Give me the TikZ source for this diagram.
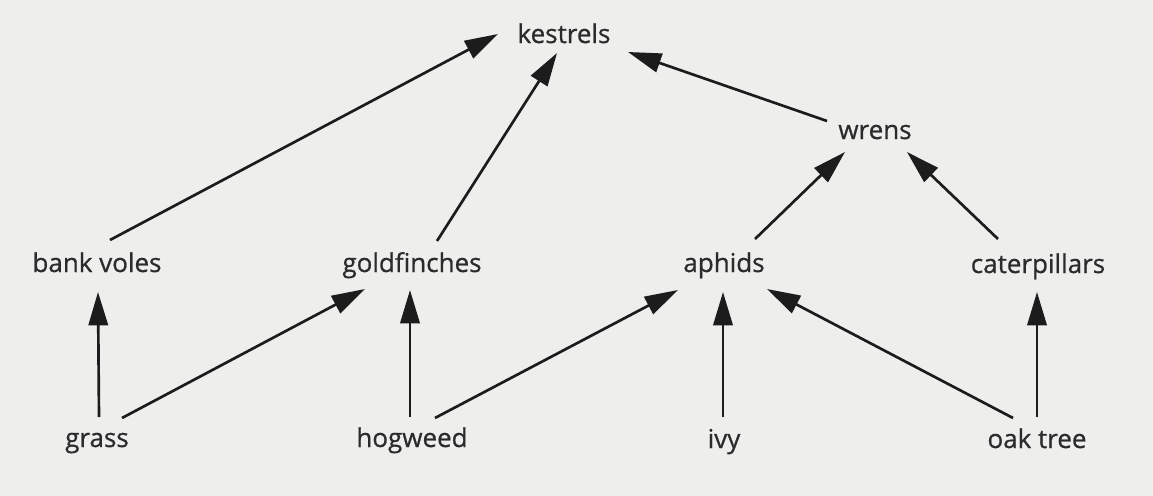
\documentclass[tikz,border=0pt]{standalone}
\usepackage{fontspec}
\setmainfont{Open Sans}
\newfontfamily\labelfont{Open Sans}[FakeBold=0.7]
\usetikzlibrary{arrows.meta}
\definecolor{paper}{HTML}{EEEEEC}
\definecolor{ink}{HTML}{2A2C2C}
\definecolor{arrowink}{HTML}{1C1C1C}
\tikzset{
  species/.style={anchor=base, inner sep=0pt, text=ink, font=\labelfont\fontsize{19.5pt}{22pt}\selectfont},
  feeds/.style={draw=arrowink, line width=2pt, -{Triangle[length=25pt, width=14.5pt]}}
}
\begin{document}
\begin{tikzpicture}[x=0.75pt, y=-0.75pt]
\fill[paper] (0,0) rectangle (1153,496);
\useasboundingbox (0,0) rectangle (1153,496);
% nodes (placed at baseline)
\node[species] (ke) at (564,43) {kestrels};
\node[species] (wr) at (875,139) {wrens};
\node[species] (bv) at (97,272) {bank voles};
\node[species] (gf) at (412,272) {goldfinches};
\node[species] (ap) at (724,272) {aphids};
\node[species] (ca) at (1038,273) {caterpillars};
\node[species] (gr) at (97,447) {grass};
\node[species] (hw) at (412,447) {hogweed};
\node[species] (iv) at (724,448) {ivy};
\node[species] (ok) at (1037,448) {oak tree};
% connectors
\draw[feeds] ([shift={(13,-32)}]bv.base) -- ([shift={(-66,-9)}]ke.base);
\draw[feeds] ([shift={(25,-31)}]gf.base) -- ([shift={(-7,10)}]ke.base);
\draw[feeds] ([shift={(-48,-18)}]wr.base) -- ([shift={(64,9)}]ke.base);
\draw[feeds] ([shift={(31,-33)}]ap.base) -- ([shift={(-30,13)}]wr.base);
\draw[feeds] ([shift={(-40,-34)}]ca.base) -- ([shift={(32,13)}]wr.base);
\draw[feeds] ([shift={(2,-30)}]gr.base) -- ([shift={(1,20)}]bv.base);
\draw[feeds] ([shift={(25,-29)}]gr.base) -- ([shift={(-47,17)}]gf.base);
\draw[feeds] ([shift={(-2,-30)}]hw.base) -- ([shift={(-2,18)}]gf.base);
\draw[feeds] ([shift={(23,-29)}]hw.base) -- ([shift={(-46,18)}]ap.base);
\draw[feeds] ([shift={(-1,-31)}]iv.base) -- ([shift={(-1,20)}]ap.base);
\draw[feeds] ([shift={(-24,-30)}]ok.base) -- ([shift={(43,17)}]ap.base);
\draw[feeds] ([shift={(0,-31)}]ok.base) -- ([shift={(-1,19)}]ca.base);
\end{tikzpicture}
\end{document}
